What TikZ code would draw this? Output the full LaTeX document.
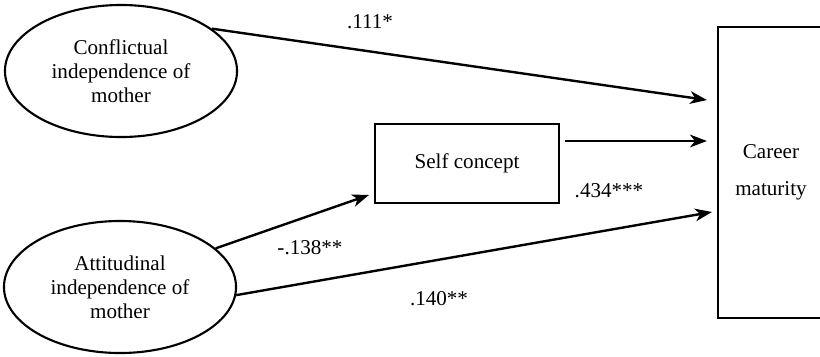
\documentclass[tikz,border=0pt]{standalone}
\usepackage{fontspec}
\setmainfont{Liberation Serif}
\usetikzlibrary{shapes.geometric, arrows.meta, calc}
\begin{document}
\begin{tikzpicture}[x=0.025cm, y=-0.025cm, font=\fontsize{15}{17}\selectfont,
        >={Stealth[length=12pt, width=9pt, inset=3.5pt]},
        latent/.style={ellipse, draw, line width=1.5pt, minimum width=5.8cm, minimum height=3.3cm, inner sep=0pt, align=center},
        obsbox/.style={rectangle, draw, line width=1.5pt, inner sep=0pt, align=center},
        path/.style={->, line width=1.7pt},
        coef/.style={inner sep=1pt}]
        \useasboundingbox (0,0) rectangle (820,356);
        \clip (0,0) rectangle (820,356);
        % ---- 自变量 ----
        \node[latent] (conf) at (121, 71) {Conflictual\\independence of\\mother};
        \node[latent] (att) at (120, 287) {Attitudinal\\independence of\\mother};
        % ---- 中介 / 因变量 ----
        \node[obsbox, minimum width=4.6cm, minimum height=1.975cm] (self) at (467, 163.5) {Self concept};
        \node[obsbox, minimum width=2.65cm, minimum height=7.275cm] (career) at (771, 172.5) {Career\\[9pt]maturity};
        % ---- 路径 ----
        \draw[path] (conf.25) -- ($(career.west)+(-10,-72.5)$);
        \draw[path] ($(self.east)+(5,-22.5)$) -- ($(career.west)+(-10,-31.5)$);
        \draw[path] (att.22) -- ($(self.west)+(-5,31.5)$);
        \draw[path] (att.-4) -- ($(career.west)+(-5,39.5)$);
        % ---- 系数 ----
        \node[coef] (c1) at (370, 22) {.111*};
        \node[coef] (c2) at (310, 248) {-.138**};
        \node[coef] (c3) at (609, 191) {.434***};
        \node[coef] (c4) at (439, 299) {.140**};
    \end{tikzpicture}
\end{document}
